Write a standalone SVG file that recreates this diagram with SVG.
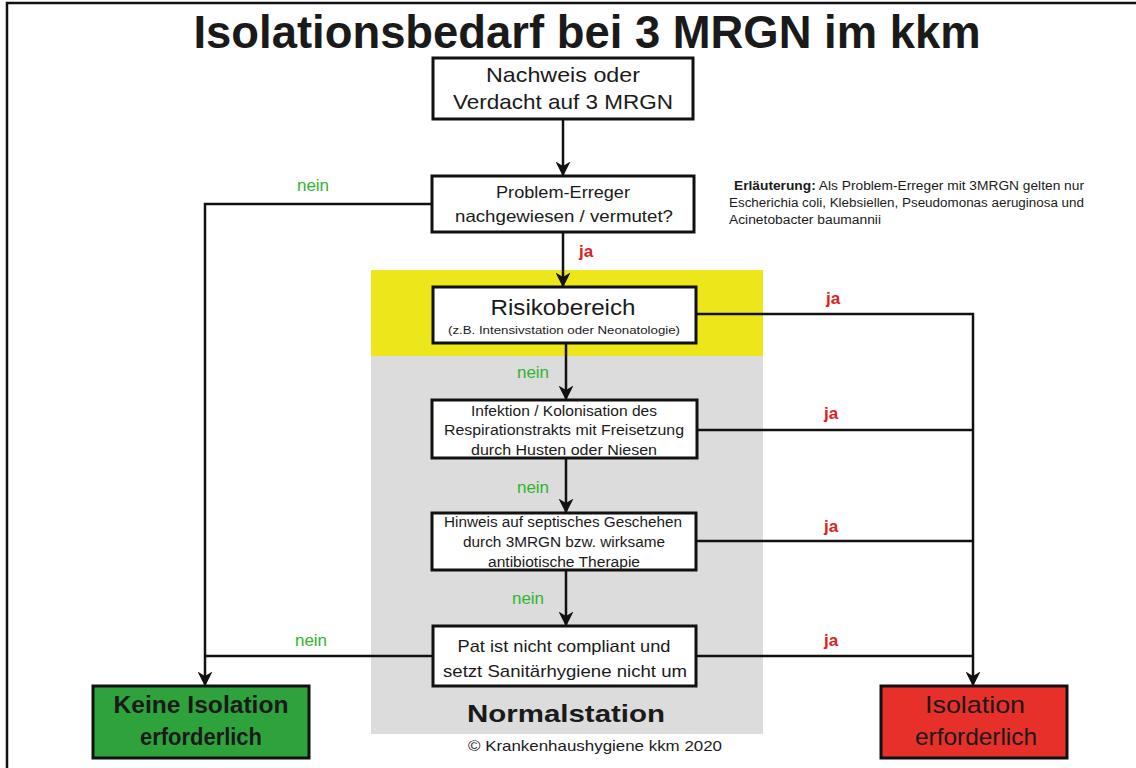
<svg xmlns="http://www.w3.org/2000/svg" width="1136" height="768" viewBox="0 0 1136 768">
<style>
  text { font-family: "Liberation Sans", Arial, sans-serif; fill: #1a1a1a; }
  .box { fill: #ffffff; stroke: #111; stroke-width: 3; }
  .line { fill: none; stroke: #111; stroke-width: 2.5; }
  .nein { fill: #2fb52f; font-size: 17px; text-anchor: middle; }
  .ja { fill: #e0201c; font-size: 17px; font-weight: bold; text-anchor: middle; }
  .t { text-anchor: middle; }
</style>
<defs>
  <marker id="arr" viewBox="0 0 10 10" refX="9" refY="5" markerWidth="6" markerHeight="6" orient="auto" markerUnits="strokeWidth">
    <path d="M0,0 L10,5 L0,10 L3,5 Z" fill="#111"/>
  </marker>
</defs>
<rect x="0" y="0" width="1136" height="768" fill="#ffffff"/>
<path d="M7,768 V3 H1136" fill="none" stroke="#111" stroke-width="2.5"/>

<g id="background">
  <rect x="371" y="270" width="392" height="86" fill="#ede61a"/>
  <rect x="371" y="356" width="392" height="378" fill="#dcdcdc"/>
</g>

<text x="587" y="48" class="t" font-size="47" font-weight="bold" textLength="787" lengthAdjust="spacingAndGlyphs">Isolationsbedarf bei 3 MRGN im kkm</text>

<g id="connectors">
  <line class="line" x1="563" y1="119" x2="563" y2="175" marker-end="url(#arr)"/>
  <line class="line" x1="563" y1="232" x2="563" y2="286" marker-end="url(#arr)"/>
  <line class="line" x1="566" y1="343" x2="566" y2="399" marker-end="url(#arr)"/>
  <line class="line" x1="566" y1="458" x2="566" y2="512" marker-end="url(#arr)"/>
  <line class="line" x1="566" y1="570" x2="566" y2="625" marker-end="url(#arr)"/>
  <polyline class="line" points="432,204 205,204 205,685" marker-end="url(#arr)"/>
  <line class="line" x1="433" y1="656" x2="205" y2="656"/>
  <polyline class="line" points="696,314 973,314 973,685" marker-end="url(#arr)"/>
  <line class="line" x1="697" y1="430" x2="973" y2="430"/>
  <line class="line" x1="696" y1="541" x2="973" y2="541"/>
  <line class="line" x1="696" y1="656" x2="973" y2="656"/>
  <text class="nein" x="313" y="191">nein</text>
  <text class="ja" x="586" y="257">ja</text>
  <text class="ja" x="833" y="304">ja</text>
  <text class="nein" x="533" y="378">nein</text>
  <text class="ja" x="831" y="419">ja</text>
  <text class="nein" x="533" y="493">nein</text>
  <text class="ja" x="831" y="532">ja</text>
  <text class="nein" x="528" y="604">nein</text>
  <text class="nein" x="311" y="646">nein</text>
  <text class="ja" x="831" y="646">ja</text>
</g>

<g id="n1">
  <rect class="box" x="433" y="58" width="260" height="61"/>
  <text class="t" x="563" y="82" font-size="21" textLength="154" lengthAdjust="spacingAndGlyphs">Nachweis oder</text>
  <text class="t" x="563" y="109" font-size="21" textLength="220" lengthAdjust="spacingAndGlyphs">Verdacht auf 3 MRGN</text>
</g>
<g id="n2">
  <rect class="box" x="432" y="176" width="262" height="56"/>
  <text class="t" x="563" y="198" font-size="16.5" textLength="134" lengthAdjust="spacingAndGlyphs">Problem-Erreger</text>
  <text class="t" x="564" y="222" font-size="16.5" textLength="218" lengthAdjust="spacingAndGlyphs">nachgewiesen / vermutet?</text>
</g>
<g id="note">
  <text x="734" y="190" font-size="12" textLength="350" lengthAdjust="spacingAndGlyphs"><tspan font-weight="bold">Erläuterung:</tspan> Als Problem-Erreger mit 3MRGN gelten nur</text>
  <text x="729" y="207" font-size="12" textLength="355" lengthAdjust="spacingAndGlyphs">Escherichia coli, Klebsiellen, Pseudomonas aeruginosa und</text>
  <text x="729" y="224" font-size="12" textLength="152" lengthAdjust="spacingAndGlyphs">Acinetobacter baumannii</text>
</g>
<g id="n3">
  <rect class="box" x="433" y="287" width="263" height="56"/>
  <text class="t" x="563" y="315" font-size="22" textLength="145" lengthAdjust="spacingAndGlyphs">Risikobereich</text>
  <text class="t" x="564" y="334" font-size="10.5" textLength="232" lengthAdjust="spacingAndGlyphs">(z.B. Intensivstation oder Neonatologie)</text>
</g>
<g id="n4">
  <rect class="box" x="432" y="400" width="265" height="58"/>
  <text class="t" x="564" y="416" font-size="14" textLength="186" lengthAdjust="spacingAndGlyphs">Infektion / Kolonisation des</text>
  <text class="t" x="564" y="435" font-size="14" textLength="240" lengthAdjust="spacingAndGlyphs">Respirationstrakts mit Freisetzung</text>
  <text class="t" x="564" y="455" font-size="14" textLength="186" lengthAdjust="spacingAndGlyphs">durch Husten oder Niesen</text>
</g>
<g id="n5">
  <rect class="box" x="432" y="513" width="264" height="57"/>
  <text class="t" x="563" y="527" font-size="14" textLength="238" lengthAdjust="spacingAndGlyphs">Hinweis auf septisches Geschehen</text>
  <text class="t" x="564" y="547" font-size="14" textLength="202" lengthAdjust="spacingAndGlyphs">durch 3MRGN bzw. wirksame</text>
  <text class="t" x="564" y="567" font-size="14" textLength="152" lengthAdjust="spacingAndGlyphs">antibiotische Therapie</text>
</g>
<g id="n6">
  <rect class="box" x="433" y="626" width="263" height="60"/>
  <text class="t" x="564" y="652" font-size="17" textLength="213" lengthAdjust="spacingAndGlyphs">Pat ist nicht compliant und</text>
  <text class="t" x="565" y="677" font-size="17" textLength="244" lengthAdjust="spacingAndGlyphs">setzt Sanitärhygiene nicht um</text>
</g>
<g id="keine">
  <rect x="93" y="686" width="216" height="72" fill="#2ea33c" stroke="#111" stroke-width="3"/>
  <text class="t" x="201" y="713" font-size="23" font-weight="bold" textLength="175" lengthAdjust="spacingAndGlyphs">Keine Isolation</text>
  <text class="t" x="201" y="745" font-size="23" font-weight="bold" textLength="122" lengthAdjust="spacingAndGlyphs">erforderlich</text>
</g>
<g id="isolation">
  <rect x="881" y="686" width="186" height="72" fill="#e8302a" stroke="#111" stroke-width="3"/>
  <text class="t" x="975" y="713" font-size="24" textLength="100" lengthAdjust="spacingAndGlyphs">Isolation</text>
  <text class="t" x="976" y="745" font-size="24" textLength="122" lengthAdjust="spacingAndGlyphs">erforderlich</text>
</g>
<text class="t" x="566" y="722" font-size="24" font-weight="bold" textLength="198" lengthAdjust="spacingAndGlyphs">Normalstation</text>
<text class="t" x="595" y="751" font-size="15" textLength="254" lengthAdjust="spacingAndGlyphs">© Krankenhaushygiene kkm 2020</text>
</svg>
